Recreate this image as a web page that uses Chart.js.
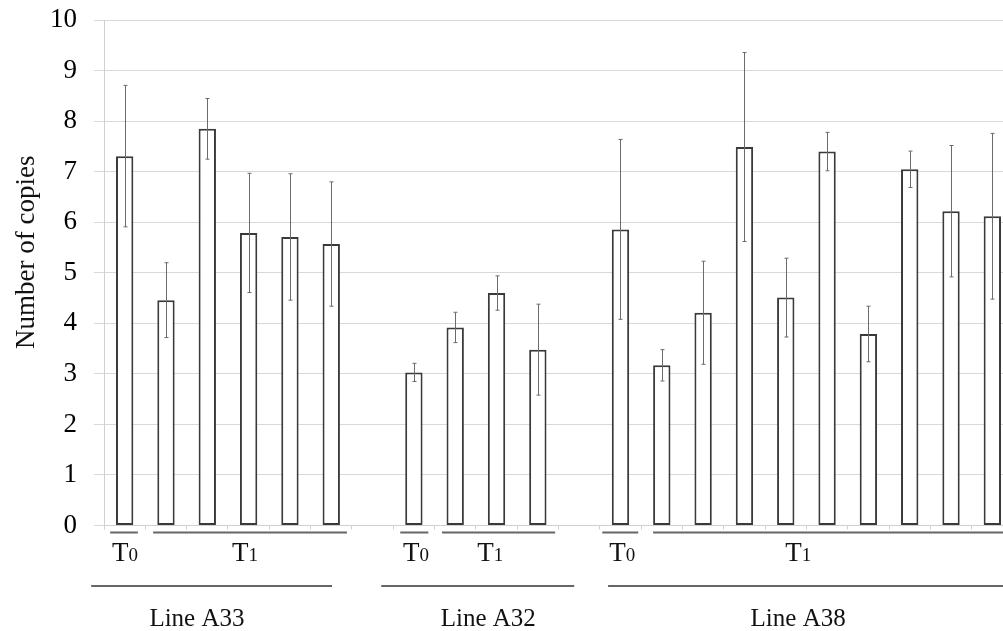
<!DOCTYPE html>
<html>
<head>
<meta charset="utf-8">
<script src="https://cdn.jsdelivr.net/npm/chart.js@4/dist/chart.umd.min.js"></script>
<style>
  html, body { margin: 0; padding: 0; background: #fff; overflow: hidden; }
  #wrap { width: 1020px; height: 644px; position: relative; top: -13px; }
</style>
</head>
<body>
<div id="wrap"><canvas id="copiesChart"></canvas></div>
<script>
// bar slots, empty strings are the gaps between lines
const categories = ['A33-1', 'A33-2', 'A33-3', 'A33-4', 'A33-5', 'A33-6', '',
  'A32-1', 'A32-2', 'A32-3', 'A32-4', '',
  'A38-1', 'A38-2', 'A38-3', 'A38-4', 'A38-5', 'A38-6', 'A38-7', 'A38-8', 'A38-9', 'A38-10'];
const copies = [7.31, 4.46, 7.85, 5.79, 5.71, 5.57, null,
  3.03, 3.92, 4.60, 3.48, null,
  5.86, 3.17, 4.21, 7.49, 4.51, 7.40, 3.79, 7.05, 6.22, 6.12];
const errors = [1.40, 0.74, 0.60, 1.18, 1.25, 1.23, null,
  0.18, 0.30, 0.34, 0.90, null,
  1.78, 0.31, 1.02, 1.87, 0.78, 0.38, 0.55, 0.36, 1.30, 1.64];
const yTicks = [0, 1, 2, 3, 4, 5, 6, 7, 8, 9, 10];

// time point brackets under the bars: letter + subscript digit
const timeLabels = [['T', '0'], ['T', '1'], ['T', '0'], ['T', '1'], ['T', '0'], ['T', '1']];
const lineLabels = ['Line A33', 'Line A32', 'Line A38'];

// placement of the brackets, in slot units from the left of the plot
const timeSpans = [[0.15, 0.82, 0.51], [1.19, 5.88, 3.41], [7.17, 7.85, 7.55],
  [8.18, 10.92, 9.35], [12.06, 12.93, 12.54], [13.29, 23, 16.8]];
const lineSpans = [[-0.31, 5.52, 2.25], [6.71, 11.38, 9.3], [12.2, 23, 16.8]];

const serif = '"Liberation Serif", "Times New Roman", serif';

const errorBars = {
  id: 'errorBars',
  afterDatasetsDraw(chart) {
    const ctx = chart.ctx;
    const y = chart.scales.y;
    const meta = chart.getDatasetMeta(0);
    ctx.save();
    ctx.strokeStyle = '#6b6b6b';
    ctx.lineWidth = 1;
    meta.data.forEach((bar, i) => {
      if (copies[i] == null || errors[i] == null) return;
      const x = Math.round(bar.x) + 0.5;
      const top = y.getPixelForValue(copies[i] + errors[i]);
      const low = y.getPixelForValue(copies[i] - errors[i]);
      ctx.beginPath();
      ctx.moveTo(x, top); ctx.lineTo(x, low);
      ctx.moveTo(x - 2, top); ctx.lineTo(x + 2, top);
      ctx.moveTo(x - 2, low); ctx.lineTo(x + 2, low);
      ctx.stroke();
    });
    ctx.restore();
  }
};

const groupLabels = {
  id: 'groupLabels',
  afterDraw(chart) {
    const ctx = chart.ctx;
    const area = chart.chartArea;
    const slot = (area.right - area.left) / categories.length;
    const px = u => area.left + u * slot;
    ctx.save();
    ctx.strokeStyle = '#666';
    ctx.lineWidth = 2;
    ctx.fillStyle = '#111';
    ctx.textBaseline = 'alphabetic';

    // y title
    ctx.save();
    ctx.translate(25, area.top + 232);
    ctx.rotate(-Math.PI / 2);
    ctx.font = '27px ' + serif;
    ctx.textAlign = 'center';
    ctx.fillText('Number of copies', 0, 9);
    ctx.restore();

    timeSpans.forEach((s, i) => {
      const ly = area.bottom + 7;
      ctx.beginPath();
      ctx.moveTo(px(s[0]), ly); ctx.lineTo(px(s[1]), ly);
      ctx.stroke();
      ctx.font = '27px ' + serif;
      const w1 = ctx.measureText(timeLabels[i][0]).width;
      ctx.font = '19px ' + serif;
      const w2 = ctx.measureText(timeLabels[i][1]).width;
      const x0 = px(s[2]) - (w1 + w2) / 2;
      const by = area.bottom + 35.5;
      ctx.textAlign = 'left';
      ctx.font = '27px ' + serif;
      ctx.fillText(timeLabels[i][0], x0, by);
      ctx.font = '19px ' + serif;
      ctx.fillText(timeLabels[i][1], x0 + w1, by);
    });

    lineSpans.forEach((s, i) => {
      const ly = area.bottom + 60.5;
      ctx.beginPath();
      ctx.moveTo(px(s[0]), ly); ctx.lineTo(px(s[1]), ly);
      ctx.stroke();
      ctx.font = '25px ' + serif;
      ctx.textAlign = 'center';
      ctx.fillText(lineLabels[i], px(s[2]), area.bottom + 100.5);
    });
    ctx.restore();
  }
};

const ctx = document.getElementById('copiesChart').getContext('2d');
const chart = new Chart(ctx, {
  type: 'bar',
  data: {
    labels: categories,
    datasets: [{
      label: 'Number of copies',
      data: copies,
      backgroundColor: '#ffffff',
      borderColor: '#3a3a3a',
      borderWidth: 2,
      borderSkipped: false,
      barPercentage: 0.42,
      categoryPercentage: 1
    }]
  },
  options: {
    responsive: true,
    maintainAspectRatio: false,
    animation: false,
    layout: { padding: { top: 4, right: 7, bottom: 101.5, left: 0 } },
    plugins: {
      legend: { display: false },
      tooltip: { enabled: false }
    },
    scales: {
      x: {
        grid: { display: true, drawOnChartArea: false, drawTicks: true, tickLength: 4, color: '#d0d0d0', offset: true },
        border: { display: true, color: '#d0d0d0' },
        ticks: { display: false }
      },
      y: {
        min: 0,
        max: 10,
        afterFit: scale => { scale.width = 104; },
        afterBuildTicks: scale => { scale.ticks = yTicks.map(v => ({ value: v })); },
        grid: { color: '#d9d9d9', lineWidth: 1, tickLength: 10 },
        border: { display: true, color: '#d0d0d0' },
        ticks: {
          padding: 17,
          color: '#000',
          font: { family: serif, size: 27 }
        }
      }
    }
  },
  plugins: [errorBars, groupLabels]
});
</script>
</body>
</html>
